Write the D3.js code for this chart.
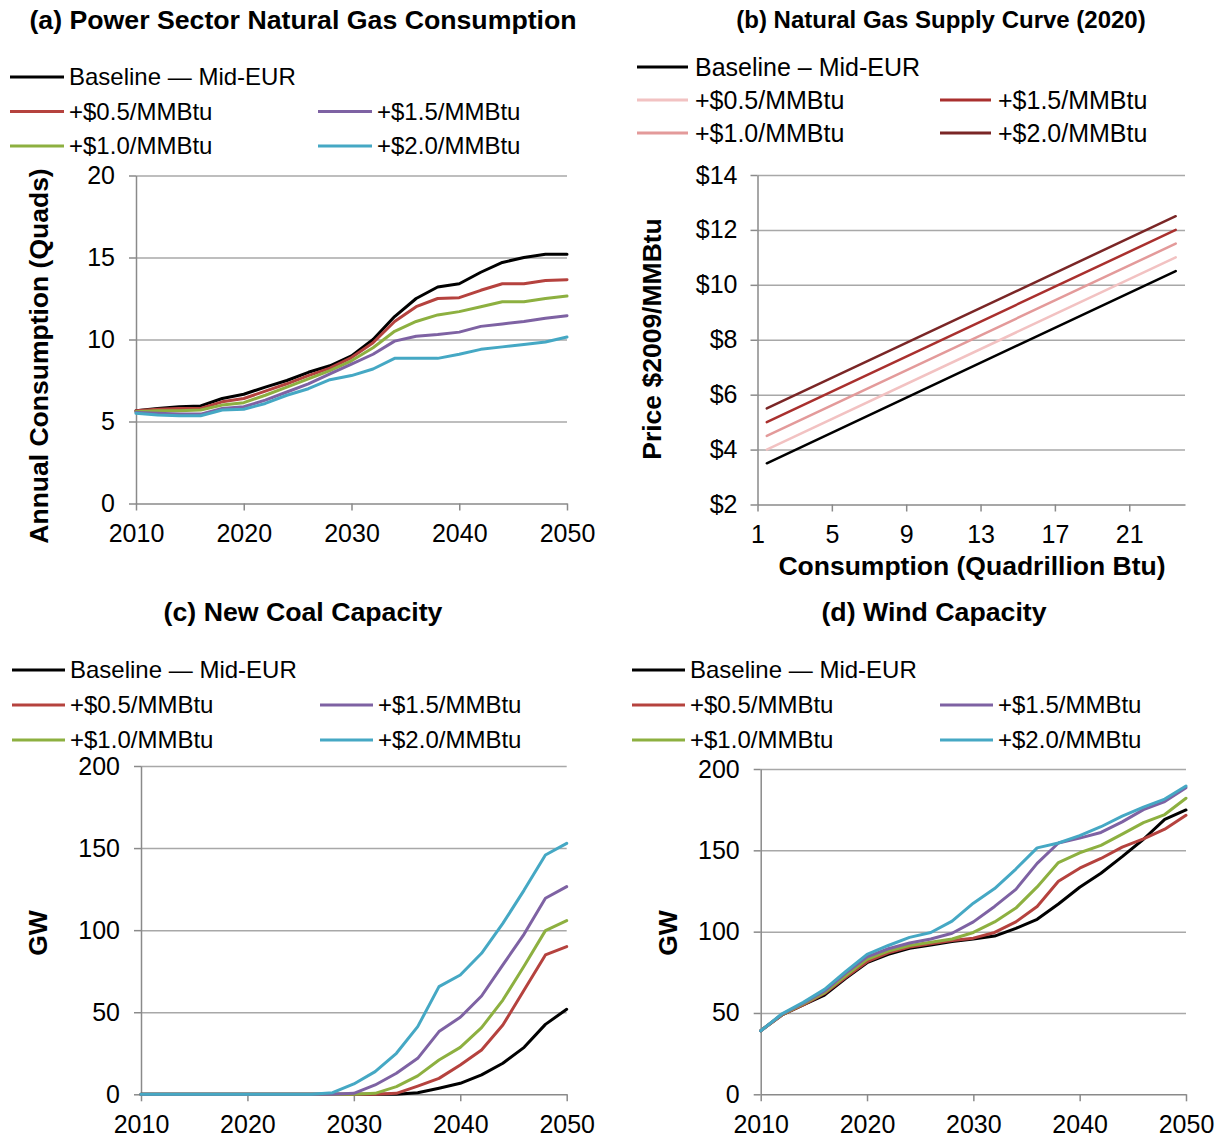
<!DOCTYPE html>
<html>
<head>
<meta charset="utf-8">
<script src="https://cdn.jsdelivr.net/npm/d3@7"></script>
<style>
  html, body { margin: 0; padding: 0; background: #fff; }
  text { font-family: "Liberation Sans", Arial, sans-serif; fill: #000; }
</style>
</head>
<body>
<script>
// ---------- DATA ----------
const years = [2010, 2012, 2014, 2016, 2018, 2020, 2022, 2024, 2026, 2028, 2030,
               2032, 2034, 2036, 2038, 2040, 2042, 2044, 2046, 2048, 2050];
const seriesNames = ["Baseline \u2014 Mid-EUR", "+$0.5/MMBtu", "+$1.0/MMBtu", "+$1.5/MMBtu", "+$2.0/MMBtu"];
const seriesNamesB = ["Baseline \u2013 Mid-EUR", "+$0.5/MMBtu", "+$1.0/MMBtu", "+$1.5/MMBtu", "+$2.0/MMBtu"];

// (a) Power sector natural gas consumption (Quads)
const gasBaseline = [5.65, 5.8, 5.9, 5.95, 6.4, 6.66, 7.1, 7.5, 8.0, 8.4, 9.0, 10.0, 11.4, 12.5, 13.2, 13.4, 14.1, 14.7, 15.0, 15.2, 15.2];
const gasPlus05   = [5.65, 5.75, 5.8, 5.8, 6.2, 6.4, 6.85, 7.3, 7.8, 8.25, 8.9, 9.8, 11.1, 12.0, 12.5, 12.55, 13.0, 13.4, 13.4, 13.6, 13.65];
const gasPlus10   = [5.6, 5.65, 5.65, 5.7, 6.0, 6.15, 6.6, 7.1, 7.6, 8.1, 8.7, 9.5, 10.5, 11.1, 11.5, 11.7, 12.0, 12.3, 12.3, 12.5, 12.65];
const gasPlus15   = [5.55, 5.5, 5.45, 5.45, 5.8, 5.9, 6.3, 6.8, 7.3, 7.9, 8.5, 9.1, 9.9, 10.2, 10.3, 10.45, 10.8, 10.95, 11.1, 11.3, 11.45];
const gasPlus20   = [5.5, 5.4, 5.35, 5.35, 5.7, 5.75, 6.1, 6.6, 7.0, 7.55, 7.8, 8.2, 8.85, 8.85, 8.85, 9.1, 9.4, 9.55, 9.7, 9.85, 10.15];

// (b) Natural gas supply curve (2020): consumption (Quadrillion Btu) vs price ($2009/MMBtu)
const consumption   = [1.5, 23.5];
const priceBaseline = [3.5, 10.5];
const pricePlus05   = [4.0, 11.0];
const pricePlus10   = [4.5, 11.5];
const pricePlus15   = [5.0, 12.0];
const pricePlus20   = [5.5, 12.5];

// (c) New coal capacity (GW)
const coalBaseline = [0, 0, 0, 0, 0, 0, 0, 0, 0, 0, 0, 0, 0, 1, 3.7, 6.7, 11.8, 18.9, 28.6, 42.6, 51.8];
const coalPlus05   = [0, 0, 0, 0, 0, 0, 0, 0, 0, 0, 0, 0, 0.6, 5, 9.7, 17.9, 27, 42.2, 63.5, 84.9, 90];
const coalPlus10   = [0, 0, 0, 0, 0, 0, 0, 0, 0, 0, 0, 0.6, 4.7, 11.2, 20.9, 28.6, 40.6, 57.4, 78.2, 99.7, 105.8];
const coalPlus15   = [0, 0, 0, 0, 0, 0, 0, 0, 0, 0, 0.6, 5.7, 12.8, 21.9, 38.2, 46.9, 59.9, 78.8, 97.6, 119.4, 126.5];
const coalPlus20   = [0, 0, 0, 0, 0, 0, 0, 0, 0, 1, 6.3, 13.8, 25, 41.2, 65.6, 72.7, 85.9, 104.1, 124.4, 145.8, 152.9];

// (d) Wind capacity (GW)
const windBaseline = [39.1, 48.8, 54.9, 61, 71.3, 80.9, 86, 89.8, 91.8, 93.9, 95.5, 97.3, 102, 107.6, 117, 127.3, 135.9, 146.1, 156.8, 169, 174.8];
const windPlus05   = [39, 48.8, 55, 62, 72, 81.5, 87, 90.5, 92.5, 94.5, 96, 99.5, 106, 115.5, 131, 139, 145, 152, 157, 163, 171.5];
const windPlus10   = [39, 49, 55.5, 62.5, 73, 83, 88, 91.5, 93.5, 95.5, 99.5, 106, 114.5, 127.5, 142.5, 148.5, 153, 160, 167, 172, 182];
const windPlus15   = [39, 49.2, 56, 63.5, 74.5, 84.5, 89.5, 93, 95.5, 99, 106, 115.5, 126, 142, 154.5, 157.5, 161, 167.5, 175, 180, 188.5];
const windPlus20   = [39, 49.5, 56.5, 64.5, 75.5, 86, 91.5, 96.5, 99.5, 106.5, 117.5, 126.5, 138.5, 151.5, 154.5, 159, 164.5, 171, 176.5, 181.5, 189.5];

// tick labels
const yearTicks = [2010, 2020, 2030, 2040, 2050];
const gasTicks = [0, 5, 10, 15, 20];
const consTicks = [1, 5, 9, 13, 17, 21];
const priceTicks = [2, 4, 6, 8, 10, 12, 14];
const gwTicks = [0, 50, 100, 150, 200];

// ---------- STYLE ----------
const lineColors  = ["#000000", "#b5423e", "#8db040", "#7e62a3", "#45a8c4"];
const supplyColors = ["#000000", "#f2c2c2", "#e39a9a", "#a9302e", "#7a2626"];
const GRID = "#a8a8a8", AXIS = "#8a8a8a";
const TICK_FS = 25, LABEL_FS = 26.5;

const W = 1225, H = 1141;
const svg = d3.select("body").append("svg").attr("width", W).attr("height", H);
svg.append("rect").attr("width", W).attr("height", H).attr("fill", "#fff");

function panel(p) {
  const x = d3.scaleLinear().domain(p.xDomain).range([p.x0, p.x1]);
  const y = d3.scaleLinear().domain(p.yDomain).range([p.yB, p.yT]);
  const g = svg.append("g");

  // horizontal gridlines
  g.append("g").attr("transform", `translate(${p.x0},0)`)
    .call(d3.axisLeft(y).tickValues(p.yTicks.filter(v => v !== p.yDomain[0])).tickSize(-(p.x1 - p.x0)).tickFormat(""))
    .call(s => s.select(".domain").remove())
    .selectAll("line").attr("stroke", GRID).attr("stroke-width", 1.5);

  // left axis
  const ya = g.append("g").attr("transform", `translate(${p.x0},0)`)
    .call(d3.axisLeft(y).tickValues(p.yTicks).tickSize(7).tickSizeOuter(0).tickPadding(p.yPad).tickFormat(p.yFormat));
  ya.select(".domain").attr("stroke", AXIS).attr("stroke-width", 1.5);
  ya.selectAll(".tick line").attr("stroke", AXIS).attr("stroke-width", 1.5);
  ya.selectAll("text").attr("font-size", TICK_FS).attr("font-family", "Liberation Sans, Arial, sans-serif").attr("fill", "#000");

  // bottom axis
  const xa = g.append("g").attr("transform", `translate(0,${p.yB})`)
    .call(d3.axisBottom(x).tickValues(p.xTicks).tickSize(7).tickSizeOuter(0).tickPadding(p.xPad).tickFormat(p.xFormat));
  xa.select(".domain").attr("stroke", AXIS).attr("stroke-width", 1.5);
  xa.selectAll(".tick line").attr("stroke", AXIS).attr("stroke-width", 1.5);
  xa.selectAll("text").attr("font-size", TICK_FS).attr("font-family", "Liberation Sans, Arial, sans-serif").attr("fill", "#000");

  // series
  const line = d3.line().x(d => x(d[0])).y(d => y(d[1]));
  p.series.forEach((s, i) => {
    const pts = p.xValues.map((xv, j) => [xv, s[j]]);
    g.append("path").attr("d", line(pts)).attr("fill", "none")
      .attr("stroke", p.colors[i]).attr("stroke-width", p.lw)
      .attr("stroke-linejoin", "round").attr("stroke-linecap", "round");
  });

  // title
  g.append("text").attr("x", p.titleX).attr("y", p.titleY).attr("text-anchor", "middle")
    .attr("font-size", p.titleFs).attr("font-weight", "bold").text(p.title);

  // y label
  g.append("text").attr("transform", `translate(${p.yLabX},${p.yLabY}) rotate(-90)`)
    .attr("text-anchor", "middle").attr("font-size", LABEL_FS).attr("font-weight", "bold").text(p.yLabel);

  if (p.xLabel) {
    g.append("text").attr("x", p.xLabX).attr("y", p.xLabY).attr("text-anchor", "middle")
      .attr("font-size", LABEL_FS).attr("font-weight", "bold").text(p.xLabel);
  }

  // legend: row 0 = series 0; row1 = s1 | s3; row2 = s2 | s4
  const L = p.legend;
  const slots = [[0, 0], [1, 0], [2, 0], [1, 1], [2, 1]];
  slots.forEach(([row, col], i) => {
    const lx = col === 0 ? L.x : L.x2;
    const ly = L.y + row * L.dy;
    g.append("line").attr("x1", lx).attr("x2", lx + L.len).attr("y1", ly).attr("y2", ly)
      .attr("stroke", p.colors[i]).attr("stroke-width", 3);
    g.append("text").attr("x", lx + L.len + L.gap).attr("y", ly).attr("dy", "0.35em")
      .attr("font-size", L.fs).text(p.names[i]);
  });
}

// (a)
panel({
  x0: 136, x1: 567, yT: 175.5, yB: 503.5,
  xDomain: [2010, 2050], yDomain: [0, 20],
  xTicks: yearTicks, yTicks: gasTicks, xFormat: d3.format("d"), yFormat: d3.format("d"),
  xPad: 14, yPad: 14,
  xValues: years, series: [gasBaseline, gasPlus05, gasPlus10, gasPlus15, gasPlus20],
  colors: lineColors, lw: 3, names: seriesNames,
  title: "(a) Power Sector Natural Gas Consumption", titleX: 303, titleY: 29, titleFs: 26.7,
  yLabel: "Annual Consumption (Quads)", yLabX: 48, yLabY: 356,
  legend: { x: 10, x2: 318, y: 77, dy: 34.5, len: 54, gap: 5, fs: 24 }
});

// (b)
panel({
  x0: 757.5, x1: 1185, yT: 175, yB: 504.5,
  xDomain: [1, 24], yDomain: [2, 14],
  xTicks: consTicks, yTicks: priceTicks, xFormat: d3.format("d"), yFormat: d => "$" + d,
  xPad: 14, yPad: 13,
  xValues: consumption, series: [priceBaseline, pricePlus05, pricePlus10, pricePlus15, pricePlus20],
  colors: supplyColors, lw: 2.5, names: seriesNamesB,
  title: "(b) Natural Gas Supply Curve (2020)", titleX: 941, titleY: 28, titleFs: 24,
  yLabel: "Price $2009/MMBtu", yLabX: 661, yLabY: 339,
  xLabel: "Consumption (Quadrillion Btu)", xLabX: 972, xLabY: 575,
  legend: { x: 637, x2: 940, y: 67, dy: 33, len: 51, gap: 7, fs: 25 }
});

// (c)
panel({
  x0: 141, x1: 566.7, yT: 766, yB: 1094.3,
  xDomain: [2010, 2050], yDomain: [0, 200],
  xTicks: yearTicks, yTicks: gwTicks, xFormat: d3.format("d"), yFormat: d3.format("d"),
  xPad: 14, yPad: 14,
  xValues: years, series: [coalBaseline, coalPlus05, coalPlus10, coalPlus15, coalPlus20],
  colors: lineColors, lw: 3, names: seriesNames,
  title: "(c) New Coal Capacity", titleX: 303, titleY: 621, titleFs: 26.7,
  yLabel: "GW", yLabX: 47, yLabY: 933,
  legend: { x: 12, x2: 320, y: 670, dy: 35, len: 53, gap: 5, fs: 24 }
});

// (d)
panel({
  x0: 760.7, x1: 1186, yT: 769, yB: 1094.3,
  xDomain: [2010, 2050], yDomain: [0, 200],
  xTicks: yearTicks, yTicks: gwTicks, xFormat: d3.format("d"), yFormat: d3.format("d"),
  xPad: 14, yPad: 14,
  xValues: years, series: [windBaseline, windPlus05, windPlus10, windPlus15, windPlus20],
  colors: lineColors, lw: 3, names: seriesNames,
  title: "(d) Wind Capacity", titleX: 934, titleY: 621, titleFs: 26.7,
  yLabel: "GW", yLabX: 677, yLabY: 933,
  legend: { x: 632, x2: 940, y: 670, dy: 35, len: 53, gap: 5, fs: 24 }
});
</script>
</body>
</html>
